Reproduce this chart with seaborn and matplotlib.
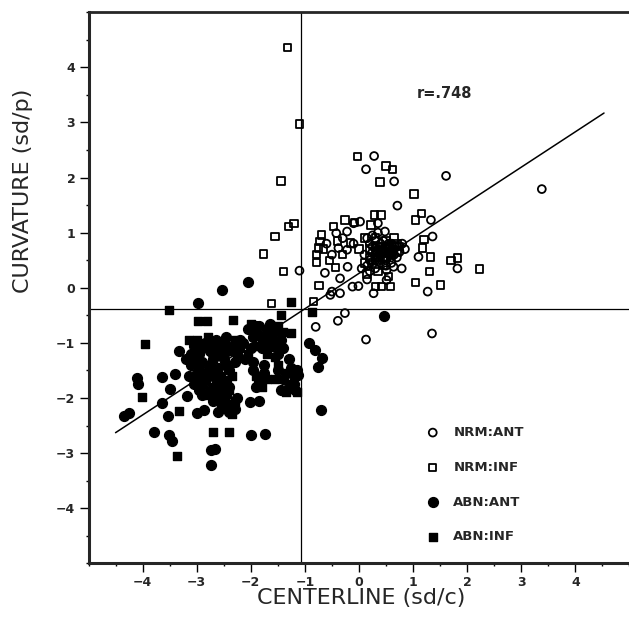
import matplotlib
matplotlib.use("Agg")
import matplotlib.pyplot as plt
import seaborn as sns
import pandas as pd
from matplotlib.ticker import MultipleLocator, FixedLocator

# ---------------- data ----------------
nrm_ant_x = [0.28, 0.13, 0.65, 1.61, 0.71, 1.33, 1.36, 0.02, -0.10, -0.42, -0.22, 0.48,
             -0.38, -0.22, -0.21, -0.63, -0.35, -0.12, -0.01, 0.51, 0.64, 0.79, 0.51, 1.10,
             1.82, 1.27, 0.27, -1.10, -0.26, -0.39, -0.80, 1.35, 0.13, 3.38, -0.50, -0.35,
             -0.53, 0.35,
             0.20, 0.30, 0.40, 0.45, 0.50, 0.55, 0.60, 0.65, 0.70, 0.35, 0.25, 0.30, 0.20,
             0.15, 0.40, 0.50, 0.30, 0.20, 0.10, 0.25, 0.35, 0.15, 0.60, 0.75, 0.80,
             0.30, 0.40, 0.45, 0.55, 0.50, 0.35, 0.40, 0.55, 0.65, 0.60, 0.45, 0.25,
             0.30, 0.50, 0.60, -0.10, -0.30, -0.50, -0.60, 0.05, 0.15, 0.70, 0.85]
nrm_ant_y = [2.39, 2.15, 1.93, 2.03, 1.49, 1.23, 0.93, 1.20, 1.17, 0.99, 1.02, 1.02,
             0.72, 0.69, 0.38, 0.27, 0.17, 0.02, 0.03, 0.32, 0.38, 0.35, 0.14, 0.56,
             0.35, -0.07, -0.10, 0.31, -0.46, -0.60, -0.71, -0.83, -0.94, 1.79, -0.07, -0.10,
             -0.13, 1.17,
             0.50, 0.55, 0.60, 0.70, 0.75, 0.65, 0.80, 0.70, 0.75, 0.70, 0.65, 0.85, 0.80,
             0.40, 0.45, 0.50, 0.35, 0.30, 0.60, 0.95, 1.00, 0.90, 0.55, 0.65, 0.80,
             0.60, 0.65, 0.55, 0.60, 0.65, 0.55, 0.80, 0.80, 0.60, 0.70, 0.85, 0.75,
             0.50, 0.40, 0.45, 0.80, 0.90, 0.60, 0.80, 0.35, 0.15, 0.55, 0.70]

nrm_inf_x = [-1.32, -1.10, -0.03, 0.50, 0.62, 0.39, 1.02, 1.15, 1.04, -1.44, -1.30, -1.20,
             0.41, 0.29, -0.26, -0.08, 0.22, -0.47, -0.69, -0.72, -0.75, -0.78, -0.78, -0.16,
             -0.43, 1.20, 1.17, 1.32, 1.70, 1.82, 1.30, 2.23, -1.40, 1.04, 1.51, 0.55,
             -0.74, 0.30, 0.42, 0.58, -0.84, -1.55, -1.76, -1.62,
             0.25, 0.35, 0.45, 0.55, 0.65, 0.70, 0.40, 0.30, 0.20, 0.10, 0.50, 0.60,
             0.75, 0.30, 0.20, 0.15, 0.35, 0.45,
             0.35, 0.45, 0.50, 0.55, 0.40, 0.30, 0.60, 0.50, -0.65, -0.55, -0.40, -0.30,
             0.00, 0.10, 0.70, 0.65]
nrm_inf_y = [4.36, 2.97, 2.38, 2.21, 2.14, 1.92, 1.70, 1.35, 1.23, 1.94, 1.11, 1.17,
             1.32, 1.32, 1.23, 1.18, 1.14, 1.11, 0.96, 0.84, 0.72, 0.60, 0.46, 0.81,
             0.37, 0.87, 0.72, 0.56, 0.50, 0.54, 0.29, 0.34, 0.30, 0.09, 0.05, 0.20,
             0.04, 0.02, 0.02, 0.02, -0.25, 0.93, 0.61, -0.29,
             0.45, 0.50, 0.55, 0.70, 0.75, 0.65, 0.75, 0.65, 0.55, 0.45, 0.85, 0.60,
             0.75, 0.90, 0.70, 0.25, 0.30, 0.40,
             0.65, 0.65, 0.55, 0.75, 0.55, 0.75, 0.65, 0.70, 0.70, 0.50, 0.85, 0.60,
             0.70, 0.90, 0.80, 0.90]

abn_ant_x = [-2.98, -2.54, -2.05, -3.32, -4.11, -4.09, -3.65, -3.41, -3.49, -3.65, -3.53,
             -4.35, -4.25, -3.78, -3.52, -3.46, -3.00, -2.86, -3.18, -2.73, -2.66, -2.73,
             -1.99, -1.73, -0.93, -0.81, -0.69, -0.76, -1.12, -0.70, -2.01, -1.85, 0.47,
             -2.35, -1.18, -1.22,
             -3.05, -2.95, -2.85, -2.75, -2.65, -2.55, -2.45, -2.35, -2.25, -2.15,
             -3.10, -3.00, -2.90, -2.80, -2.70, -2.60, -2.50, -2.40, -2.30,
             -3.05, -2.95, -2.85, -2.75, -2.65, -2.55, -2.45,
             -2.65, -2.55, -2.45, -2.35, -2.25, -2.40,
             -2.05, -1.95, -1.85, -1.75, -1.65, -1.55, -1.45, -1.60, -1.80, -1.50,
             -1.95, -1.85, -1.75, -1.50, -1.40, -1.30, -1.20, -1.45, -1.25,
             -3.10, -2.90, -2.70, -2.50, -2.30, -2.20, -3.00, -2.80, -2.60, -2.40,
             -2.90, -2.70, -2.60, -2.45, -2.30, -1.90, -1.70, -1.50, -1.40, -1.30,
             -1.20, -1.15, -1.95, -1.90, -1.75, -2.00, -2.10, -3.15, -3.20]
abn_ant_y = [-0.28, -0.04, 0.11, -1.15, -1.64, -1.75, -1.62, -1.56, -1.84, -2.10, -2.33,
             -2.33, -2.28, -2.61, -2.67, -2.79, -2.28, -2.21, -1.96, -2.94, -2.93, -3.22,
             -2.67, -2.65, -1.01, -1.13, -1.28, -1.43, -1.58, -2.22, -2.08, -2.06, -0.52,
             -2.22, -1.85, -1.79,
             -1.05, -1.20, -1.00, -1.15, -0.95, -1.10, -0.90, -1.05, -1.20, -1.00,
             -1.40, -1.55, -1.35, -1.50, -1.30, -1.45, -1.30, -1.50, -1.35,
             -1.75, -1.85, -1.70, -1.85, -1.65, -1.80, -1.70,
             -2.00, -2.10, -1.95, -2.15, -2.00, -2.25,
             -0.75, -0.90, -0.70, -0.85, -0.65, -0.80, -0.95, -1.05, -1.10, -1.20,
             -1.50, -1.70, -1.55, -1.50, -1.65, -1.80, -1.60, -1.85, -1.45,
             -1.20, -1.05, -1.20, -1.20, -1.10, -0.95, -1.65, -1.60, -1.70, -1.80,
             -1.95, -2.05, -2.25, -2.10, -2.20, -0.70, -1.00, -1.00, -1.10, -1.30,
             -1.75, -1.50, -1.35, -1.80, -1.40, -1.10, -1.30, -1.60, -1.30]

abn_inf_x = [-3.51, -2.98, -2.81, -2.33, -3.96, -3.15, -1.25, -1.26, -1.44, -0.87,
             -4.01, -3.32, -2.70, -2.41, -3.36,
             -3.00, -2.90, -2.80, -2.70, -2.60, -2.50, -2.40, -2.30, -2.20,
             -3.05, -2.95, -2.85, -2.75, -2.65, -2.55, -2.45, -2.35,
             -2.90, -2.80, -2.70, -2.60, -2.50, -2.40, -2.30, -2.50, -2.35,
             -2.00, -1.90, -1.80, -1.70, -1.60, -1.50, -1.40, -1.45, -1.55, -1.70, -1.90, -2.05,
             -1.90, -1.80, -1.70, -1.55, -1.35, -1.25, -1.15, -1.35, -1.50]
abn_inf_y = [-0.40, -0.61, -0.61, -0.58, -1.02, -0.95, -0.83, -0.25, -0.49, -0.44,
             -1.98, -2.23, -2.61, -2.62, -3.06,
             -0.95, -1.10, -0.90, -1.05, -1.20, -1.00, -1.15, -0.95, -1.10,
             -1.30, -1.45, -1.60, -1.40, -1.55, -1.60, -1.40, -1.60,
             -1.75, -1.95, -1.80, -1.90, -2.00, -1.85, -2.05, -2.20, -2.30,
             -0.65, -0.80, -0.95, -0.75, -0.90, -0.70, -0.80, -1.10, -1.25, -1.20, -1.05, -1.20,
             -1.60, -1.80, -1.65, -1.65, -1.55, -1.75, -1.90, -1.90, -1.40]

groups = ["NRM:ANT", "NRM:INF", "ABN:ANT", "ABN:INF"]
fit_x = [-4.50, 4.53]
fit_y = [-2.63, 3.17]
ref_x = -1.07
ref_y = -0.38
r_text = "r=.748"
x_ticks = [-4, -3, -2, -1, 0, 1, 2, 3, 4]
y_ticks = [-4, -3, -2, -1, 0, 1, 2, 3, 4]

frames = []
for g, xs, ys in zip(groups, [nrm_ant_x, nrm_inf_x, abn_ant_x, abn_inf_x],
                     [nrm_ant_y, nrm_inf_y, abn_ant_y, abn_inf_y]):
    frames.append(pd.DataFrame({"x": xs, "y": ys, "group": g}))
df = pd.concat(frames, ignore_index=True)

# ---------------- drawing ----------------
sns.set_style("ticks")
plt.rcParams["font.family"] = ["DejaVu Sans"]

fig = plt.figure(figsize=(6.29, 6.22), dpi=100)
ax = fig.add_axes([0.1407, 0.0944, 0.860, 0.886])

ax.axhline(ref_y, color="black", lw=0.9, zorder=1)
ax.axvline(ref_x, color="black", lw=0.9, zorder=1)
ax.plot(fit_x, fit_y, color="black", lw=1.1, zorder=2)

styles = {
    "NRM:ANT": dict(marker="o", s=32, facecolor="none", linewidth=1.3),
    "NRM:INF": dict(marker="s", s=28, facecolor="none", linewidth=1.3),
    "ABN:ANT": dict(marker="o", s=50, facecolor="black", linewidth=1.0),
    "ABN:INF": dict(marker="s", s=40, facecolor="black", linewidth=1.0),
}
for g in groups:
    st = styles[g]
    sns.scatterplot(data=df[df["group"] == g], x="x", y="y", ax=ax,
                    marker=st["marker"], s=st["s"], facecolor=st["facecolor"],
                    edgecolor="black", linewidth=st["linewidth"], label=g, zorder=3)

ax.set_xlim(-5, 5)
ax.set_ylim(-5, 5)
ax.xaxis.set_major_locator(FixedLocator(x_ticks))
ax.yaxis.set_major_locator(FixedLocator(y_ticks))
ax.xaxis.set_minor_locator(MultipleLocator(0.5))
ax.yaxis.set_minor_locator(MultipleLocator(0.5))
ax.set_xticklabels([("\u2212%d" % -t) if t < 0 else str(t) for t in x_ticks])
ax.set_yticklabels([("\u2212%d" % -t) if t < 0 else str(t) for t in y_ticks])
ax.tick_params(which="major", direction="out", length=6.5, width=1.0,
               labelsize=9, pad=3, color="black")
ax.tick_params(which="minor", direction="out", length=2.5, width=1.0, color="black")
for lab in ax.get_xticklabels() + ax.get_yticklabels():
    lab.set_fontweight("bold")

for side in ["left", "bottom"]:
    ax.spines[side].set_linewidth(2.2)
ax.spines["top"].set_linewidth(2.0)
ax.spines["right"].set_visible(False)

ax.set_xlabel("CENTERLINE (sd/c)", fontsize=16)
ax.set_ylabel("CURVATURE (sd/p)", fontsize=16)
ax.xaxis.label.set_va("center")
ax.yaxis.label.set_va("center")
ax.xaxis.set_label_coords(0.505, -0.063)
ax.yaxis.set_label_coords(-0.121, 0.675)

ax.text(1.58, 3.53, r_text, ha="center", va="center", fontsize=10.5, fontweight="bold")

leg = ax.legend(loc="upper left", bbox_to_anchor=(0.612, 0.261), frameon=False,
                borderpad=0, handlelength=1.0, handletextpad=1.06, labelspacing=1.65,
                prop={"size": 9.5, "weight": "bold"})

fig.savefig("out.png", dpi=100)
